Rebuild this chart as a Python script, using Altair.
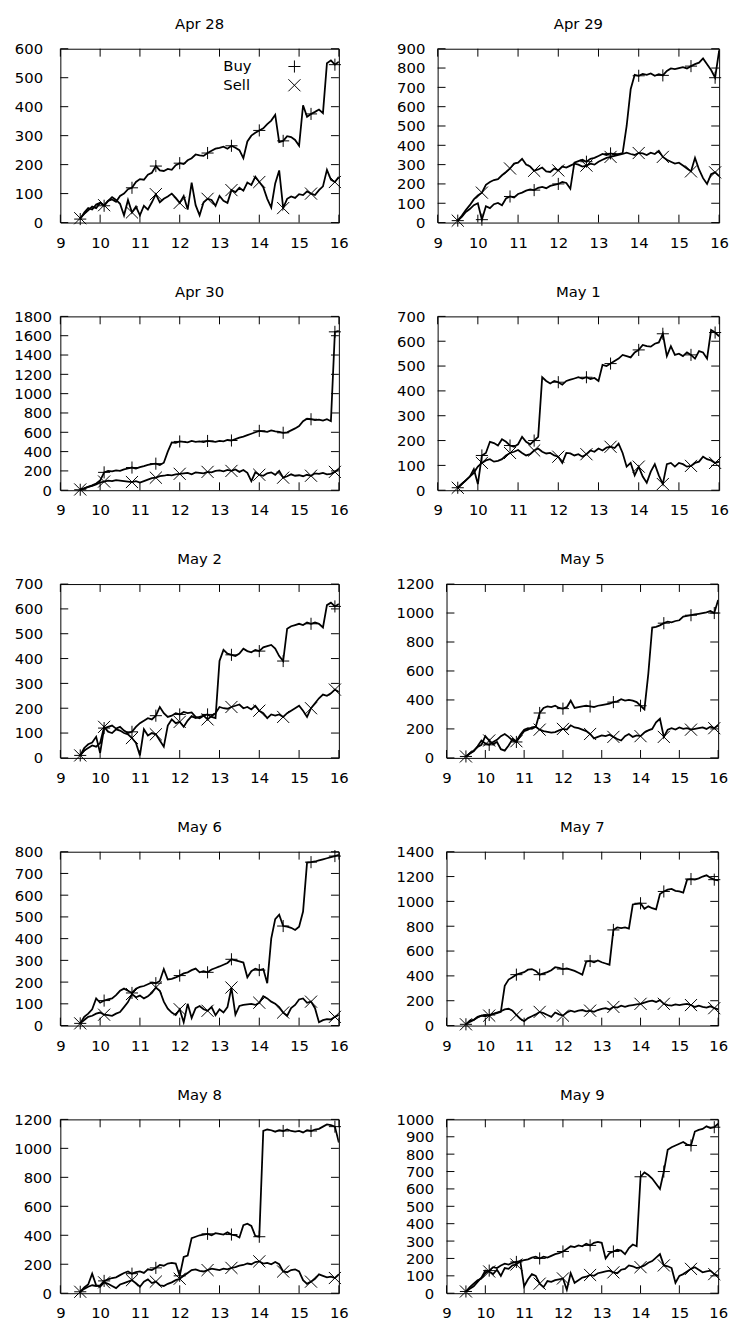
import altair as alt
import pandas as pd

FONT = "DejaVu Sans"

TIMES = [9.5, 9.6, 9.7, 9.8, 9.9,
         10.0, 10.1, 10.2, 10.3, 10.4, 10.5, 10.6, 10.7, 10.8, 10.9,
         11.0, 11.1, 11.2, 11.3, 11.4, 11.5, 11.6, 11.7, 11.8, 11.9,
         12.0, 12.1, 12.2, 12.3, 12.4, 12.5, 12.6, 12.7, 12.8, 12.9,
         13.0, 13.1, 13.2, 13.3, 13.4, 13.5, 13.6, 13.7, 13.8, 13.9,
         14.0, 14.1, 14.2, 14.3, 14.4, 14.5, 14.6, 14.7, 14.8, 14.9,
         15.0, 15.1, 15.2, 15.3, 15.4, 15.5, 15.6, 15.7, 15.8, 15.9,
         16.0]
MARK_TIMES = [9.5, 10.1, 10.8, 11.4, 12.0, 12.7, 13.3, 14.0, 14.6, 15.3, 15.9]
X_TICKS = [9, 10, 11, 12, 13, 14, 15, 16]
SERIES = ["Buy", "Sell"]

APR28_BUY = [12, 35, 50, 45, 62,
             68, 58, 75, 80, 72, 92, 100, 115, 120, 140,
             150, 148, 165, 172, 195, 180, 178, 185, 182, 198,
             205, 202, 215, 222, 235, 232, 230, 240, 248, 255,
             258, 262, 255, 265, 258, 250, 222, 280, 300, 310,
             318, 325, 340, 352, 372, 278, 282, 298, 295, 285,
             265, 405, 365, 375, 382, 390, 378, 550, 560, 545,
             555]
APR28_SELL = [15, 30, 42, 55, 50,
              68, 60, 75, 88, 78, 65, 25, 78, 35, 55,
              25, 58, 45, 70, 98, 70, 82, 90, 100, 85,
              68, 92, 45, 138, 60, 25, 70, 82, 78, 58,
              92, 75, 68, 112, 105, 120, 110, 138, 130, 158,
              140, 122, 82, 52, 135, 180, 50, 82, 90, 85,
              98, 95, 108, 100, 95, 112, 125, 182, 148, 140,
              158]
APR29_BUY = [10, 30, 55, 70, 90,
             100, 15, 85, 75, 95, 102, 90, 125, 135, 130,
             148, 155, 165, 172, 168, 180, 185, 178, 190, 195,
             200, 210, 205, 175, 310, 318, 325, 315, 330, 335,
             345, 355, 350, 358, 352, 355, 360, 500, 690, 765,
             760, 770, 765, 772, 760, 768, 762, 785, 798, 795,
             800, 805, 798, 810, 820, 828, 850, 820, 790, 750,
             890]
APR29_SELL = [10, 35, 65, 90, 120,
              140, 155, 195, 210, 220, 225, 245, 262, 280, 305,
              310, 330, 300, 290, 268, 275, 285, 265, 262, 280,
              270, 290, 285, 295, 305, 300, 290, 295, 305, 300,
              315, 325, 335, 340, 345, 350, 355, 362, 355, 350,
              360, 358, 350, 362, 355, 372, 340, 325, 315, 305,
              310, 295, 280, 265, 335, 275, 230, 200, 250, 260,
              240]
APR30_BUY = [5, 20, 35, 50, 70,
             100, 185, 200, 195, 205, 200, 215, 225, 235, 225,
             240, 250, 262, 270, 275, 262, 285, 400, 495, 490,
             505, 500, 495, 510, 500, 505, 498, 510, 505, 500,
             510, 505, 520, 515, 530, 545, 555, 570, 585, 600,
             615, 610, 605, 620, 610, 605, 595, 600, 620, 640,
             665, 715, 740, 735, 725, 730, 720, 735, 715, 1640,
             1650]
APR30_SELL = [8, 20, 35, 45, 60,
              80, 90, 100, 95, 105, 100, 95, 90, 85, 95,
              80, 95, 110, 125, 130, 145, 150, 160, 155, 165,
              170, 175, 180, 165, 185, 180, 175, 190, 185, 200,
              205, 195, 210, 200, 215, 190, 210, 180, 95, 185,
              160, 150, 175, 185, 160, 200, 130, 145, 165, 150,
              155, 145, 160, 150, 175, 170, 180, 165, 170, 190,
              220]
MAY1_BUY = [10, 25, 40, 55, 85,
            25, 140, 150, 195, 190, 180, 205, 195, 180, 175,
            185, 215, 195, 185, 200, 215, 455, 440, 430, 440,
            435, 425, 440, 445, 450, 455, 450, 455, 448, 452,
            440, 505, 500, 510, 520, 530, 545, 540, 535, 555,
            565, 585, 580, 578, 590, 595, 630, 540, 580, 545,
            550, 540, 555, 545, 530, 560, 555, 530, 645, 635,
            620]
MAY1_SELL = [10, 25, 40, 55, 70,
             95, 110, 120, 125, 115, 118, 125, 140, 150, 155,
             162, 150, 140, 145, 160, 168, 155, 148, 150, 140,
             135, 110, 150, 148, 140, 145, 135, 145, 160, 155,
             168, 160, 172, 175, 170, 188, 150, 95, 110, 60,
             95, 55, 30, 75, 105, 60, 25, 105, 110, 95,
             110, 105, 95, 98, 110, 115, 135, 125, 120, 110,
             115]
MAY2_BUY = [10, 40, 55, 62, 85,
            20, 120, 125, 130, 118, 125, 110, 100, 105, 125,
            140, 150, 160, 155, 170, 205, 180, 165, 170, 180,
            175, 185, 180, 183, 165, 160, 170, 175, 165, 160,
            390, 435, 420, 415, 410, 420, 440, 430, 425, 435,
            430, 445, 450, 455, 440, 410, 390, 520, 530, 535,
            540, 535, 545, 540, 545, 540, 525, 615, 625, 610,
            620]
MAY2_SELL = [10, 30, 40, 50, 45,
             60, 125, 105, 100, 115, 110, 100, 95, 80, 60,
             10, 115, 90, 100, 95, 70, 45, 130, 155, 140,
             145, 125, 150, 168, 160, 165, 170, 155, 168, 180,
             205, 200, 198, 205, 210, 215, 200, 205, 195, 210,
             190, 180, 160, 175, 170, 175, 165, 180, 190, 200,
             210, 190, 165, 200, 220, 240, 255, 250, 260, 275,
             265]
MAY5_BUY = [10, 30, 45, 80, 120,
            100, 90, 110, 125, 150, 165, 145, 120, 110, 150,
            185, 195, 210, 215, 310, 345, 355, 350, 360, 345,
            340, 350, 395, 345, 350, 355, 360, 355, 350, 360,
            365, 370, 375, 385, 390, 405, 395, 400, 395, 385,
            360, 335, 580, 900, 905, 915, 930, 940, 935, 945,
            950, 975, 980, 985, 990, 995, 1000, 1005, 1015, 1000,
            1090]
MAY5_SELL = [10, 30, 50, 75, 90,
             150, 120, 95, 110, 60, 50, 85, 130, 115, 160,
             195, 205, 200, 215, 195, 185, 180, 175, 178, 190,
             200, 195, 225, 210, 205, 195, 185, 165, 135, 145,
             155, 150, 160, 145, 130, 120, 150, 165, 145, 155,
             150, 175, 190, 200, 245, 270, 145, 195, 205, 195,
             210, 200, 205, 195, 200, 205, 210, 200, 215, 205,
             225]
MAY6_BUY = [10, 40, 55, 75, 125,
            105, 115, 120, 125, 140, 160, 170, 160, 150, 170,
            178, 182, 190, 198, 195, 205, 260, 212, 215, 222,
            230, 240, 245, 255, 262, 245, 250, 245, 258, 265,
            272, 280, 288, 305, 300, 295, 290, 222, 250, 262,
            255, 260, 195, 400, 490, 510, 458, 455, 450, 440,
            455, 525, 750, 752, 755, 760, 765, 770, 775, 780,
            785]
MAY6_SELL = [10, 25, 40, 45, 55,
             60, 50, 48, 45, 55, 62, 85, 108, 145, 130,
             138, 125, 135, 150, 175, 160, 110, 78, 60, 48,
             75, 15, 100, 35, 80, 90, 75, 68, 85, 48,
             75, 60, 85, 175, 50, 90, 95, 98, 100, 95,
             105, 135, 125, 110, 100, 85, 60, 45, 80, 95,
             120, 125, 105, 110, 80, 15, 25, 30, 28, 40,
             50]
MAY7_BUY = [10, 40, 45, 65, 80,
            75, 85, 92, 100, 110, 320, 370, 390, 410, 420,
            430, 450, 455, 440, 410, 420, 430, 445, 470, 465,
            455, 460, 450, 440, 425, 410, 515, 520, 510, 525,
            510, 500, 490, 770, 790, 785, 790, 780, 975, 980,
            985, 940, 960, 945, 935, 1060, 1080, 1095, 1100, 1085,
            1080, 1070, 1175, 1180, 1175, 1185, 1200, 1210, 1190, 1175,
            1170]
MAY7_SELL = [10, 30, 45, 70, 80,
             85, 80, 95, 105, 115, 130, 135, 120, 85, 55,
             35, 60, 75, 90, 110, 100, 85, 70, 105, 90,
             80, 105, 120, 110, 120, 125, 115, 120, 110, 125,
             135, 140, 130, 150, 145, 160, 150, 160, 165, 170,
             175, 185, 195, 200, 190, 205, 175, 165, 160, 170,
             165, 170, 175, 165, 150, 160, 150, 145, 155, 140,
             130]
MAY8_BUY = [10, 30, 45, 55, 50,
            55, 85, 95, 105, 110, 125, 140, 150, 135, 145,
            150, 140, 165, 160, 175, 195, 190, 205, 210, 205,
            120, 250, 260, 380, 390, 400, 405, 410, 400, 415,
            410, 405, 420, 405, 400, 385, 470, 480, 465, 395,
            390, 1120, 1130, 1125, 1115, 1125, 1120, 1130, 1120, 1115,
            1120, 1110, 1125, 1120, 1130, 1135, 1150, 1165, 1160, 1150,
            1040]
MAY8_SELL = [10, 40, 60, 135, 55,
             45, 75, 65, 50, 35, 60, 70, 80, 90, 70,
             45, 80, 95, 70, 80, 55, 50, 65, 75, 90,
             100, 120, 140, 160, 165, 155, 150, 160, 170, 165,
             160, 170, 165, 175, 180, 190, 195, 205, 200, 215,
             220, 205, 210, 200, 215, 200, 150, 145, 160, 165,
             150, 90, 65, 80, 100, 130, 120, 110, 115, 105,
             130]
MAY9_BUY = [10, 35, 55, 75, 85,
            115, 130, 150, 145, 160, 170, 165, 175, 180, 185,
            190, 195, 205, 210, 200, 210, 205, 215, 225, 230,
            240, 255, 270, 265, 275, 270, 285, 275, 290, 295,
            290, 200, 230, 240, 250, 245, 225, 260, 280, 270,
            670, 695, 680, 660, 630, 600, 700, 825, 840, 850,
            860, 870, 855, 850, 930, 940, 945, 960, 950, 955,
            975]
MAY9_SELL = [10, 25, 40, 65, 90,
             130, 125, 110, 135, 100, 145, 140, 160, 165, 185,
             40, 80, 110, 100, 55, 35, 70, 65, 75, 80,
             85, 20, 115, 60, 75, 90, 95, 105, 100, 115,
             120, 125, 130, 120, 115, 135, 140, 160, 155, 145,
             150, 160, 175, 185, 205, 225, 160, 155, 145, 60,
             100, 110, 125, 140, 150, 135, 120, 125, 130, 110,
             100]

# (title, y max, y tick labels, buy, sell, plot width, y label padding)
PANELS = [
    ("Apr 28", 600, [0, 100, 200, 300, 400, 500, 600], APR28_BUY, APR28_SELL, 282, 18),
    ("Apr 29", 900, [0, 100, 200, 300, 400, 500, 600, 700, 800, 900], APR29_BUY, APR29_SELL, 285, 13),
    ("Apr 30", 1800, [0, 200, 400, 600, 800, 1000, 1200, 1400, 1600, 1800], APR30_BUY, APR30_SELL, 282, 9),
    ("May 1", 700, [0, 100, 200, 300, 400, 500, 600, 700], MAY1_BUY, MAY1_SELL, 285, 13),
    ("May 2", 700, [0, 100, 200, 300, 400, 500, 600, 700], MAY2_BUY, MAY2_SELL, 282, 18),
    ("May 5", 1200, [0, 200, 400, 600, 800, 1000, 1200], MAY5_BUY, MAY5_SELL, 275, 13),
    ("May 6", 800, [0, 100, 200, 300, 400, 500, 600, 700, 800], MAY6_BUY, MAY6_SELL, 282, 18),
    ("May 7", 1400, [0, 200, 400, 600, 800, 1000, 1200, 1400], MAY7_BUY, MAY7_SELL, 275, 13),
    ("May 8", 1200, [0, 200, 400, 600, 800, 1000, 1200], MAY8_BUY, MAY8_SELL, 282, 9),
    ("May 9", 1000, [0, 100, 200, 300, 400, 500, 600, 700, 800, 900, 1000], MAY9_BUY, MAY9_SELL, 275, 13),
]

H = 176
TICK = 8
PLUS_PATH = "M-1,0L1,0M0,-1L0,1"
CROSS_PATH = "M-1,-1L1,1M-1,1L1,-1"
SHAPES = {"Buy": PLUS_PATH, "Sell": CROSS_PATH}
MARKS = set(round(m, 1) for m in MARK_TIMES)

# key (legend) placement inside the first panel, in pixels from the plot's top-left
KEY_TEXT_X = 165
KEY_SYMBOL_X = 237
KEY_ROW_Y = {"Buy": 18, "Sell": 37}


def make_panel(title, ymax, yticks, buy, sell, width, ypad, legend):
    rows = []
    for name, vals in zip(SERIES, (buy, sell)):
        assert len(vals) == len(TIMES), (title, name, len(vals))
        for t, v in zip(TIMES, vals):
            rows.append({"t": t, "v": v, "series": name, "mark": round(t, 1) in MARKS})
    df = pd.DataFrame(rows)
    xs = alt.Scale(domain=[9, 16], nice=False, zero=False)
    ys = alt.Scale(domain=[0, ymax], nice=False, zero=True)
    xax = alt.Axis(values=X_TICKS, format="d", ticks=False, domain=False, grid=False,
                   title=None, labelPadding=13, labelFlush=False, labelOverlap=False)
    yax = alt.Axis(values=yticks, format="d", ticks=False, domain=False, grid=False,
                   title=None, labelPadding=ypad, labelFlush=False, labelOverlap=False)
    x = alt.X("t:Q", scale=xs, axis=xax)
    y = alt.Y("v:Q", scale=ys, axis=yax)

    layers = [alt.Chart(df).mark_line(color="black", strokeWidth=1.8, clip=True).encode(
        x=x, y=y, detail="series:N", order="t:Q")]

    for name in SERIES:
        layers.append(
            alt.Chart(df).transform_filter(
                f"datum.mark && datum.series == '{name}'").mark_point(
                shape=SHAPES[name], filled=False, color="black", strokeWidth=1,
                size=150, opacity=1).encode(x=x, y=y))

    xt = pd.DataFrame({"t": X_TICKS})
    yt = pd.DataFrame({"v": yticks})
    rule = dict(color="black", strokeWidth=1)
    layers += [
        alt.Chart(xt).mark_rule(**rule).encode(x=x, y=alt.value(H), y2=alt.value(H - TICK)),
        alt.Chart(xt).mark_rule(**rule).encode(x=x, y=alt.value(0), y2=alt.value(TICK)),
        alt.Chart(yt).mark_rule(**rule).encode(y=y, x=alt.value(0), x2=alt.value(TICK)),
        alt.Chart(yt).mark_rule(**rule).encode(y=y, x=alt.value(width), x2=alt.value(width - TICK)),
    ]

    if legend:
        for name in SERIES:
            key = pd.DataFrame({"series": [name]})
            layers.append(alt.Chart(key).mark_text(
                font=FONT, fontSize=15, color="black", align="left", baseline="middle").encode(
                text="series:N", x=alt.value(KEY_TEXT_X), y=alt.value(KEY_ROW_Y[name])))
            layers.append(alt.Chart(key).mark_point(
                shape=SHAPES[name], filled=False, color="black", strokeWidth=1,
                size=150, opacity=1).encode(
                x=alt.value(KEY_SYMBOL_X), y=alt.value(KEY_ROW_Y[name])))

    return alt.layer(*layers).properties(width=width, height=H, title=title)


charts = [make_panel(*p, legend=(i == 0)) for i, p in enumerate(PANELS)]
rows = [alt.hconcat(charts[2 * r], charts[2 * r + 1], spacing=46) for r in range(5)]

chart = (alt.vconcat(*rows, spacing=33)
         .configure_view(stroke="black", strokeWidth=1)
         .configure_axis(labelFont=FONT, labelFontSize=15, labelColor="black")
         .configure_title(font=FONT, fontSize=15, fontWeight="normal", color="black",
                          offset=10, frame="group", anchor="middle")
         .properties(background="white",
                     padding={"left": 5, "top": 0, "right": 0, "bottom": 0}))

chart.save("out.html", embed_options={"renderer": "svg", "actions": False})
